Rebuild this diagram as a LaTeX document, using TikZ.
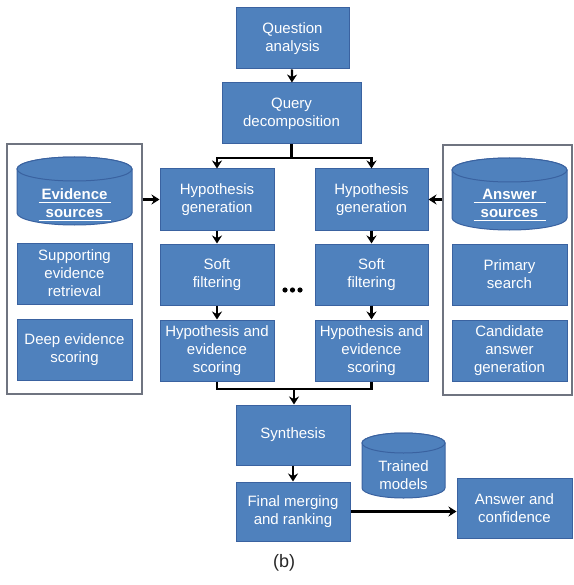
\documentclass[tikz,border=0pt]{standalone}
\usepackage{fontspec}
\setmainfont{Liberation Sans}
\usetikzlibrary{arrows.meta}
\definecolor{boxfill}{HTML}{4F81BD}
\definecolor{boxline}{HTML}{3A62A0}
\definecolor{frameline}{HTML}{6F7480}
\newcommand\mycyl[5]{%
  \pgfmathsetmacro\cylrx{(#3-#1)/2}%
  \pgfmathsetmacro\cylcx{(#1+#3)/2}%
  \draw[cylst] (#1,#2+#5) -- (#1,#4-#5) arc (180:360:\cylrx pt and #5 pt) -- (#3,#2+#5) arc (0:180:\cylrx pt and #5 pt) -- cycle;
  \draw[cylst] (\cylcx,#2+#5) ellipse (\cylrx pt and #5 pt);}
\newcommand\ulw[2]{\mbox{\rlap{\rule[-3.5pt]{#1}{1.2pt}}\makebox[#1]{#2}}}
\begin{document}
\begin{tikzpicture}[x=1pt,y=-1pt,
  bx/.style={draw=boxline, line width=1pt, fill=boxfill, text=white, align=center,
    font=\fontsize{15}{18}\selectfont, inner sep=0pt},
  cylst/.style={draw=boxline, line width=1pt, fill=boxfill},
  cyltext/.style={text=white, align=center, font=\fontsize{15}{18}\selectfont, inner sep=0pt},
  frm/.style={draw=frameline, line width=1.3pt, fill=none, inner sep=0pt},
  conn/.style={line width=2.2pt, black},
  arr/.style={conn, -{Stealth[length=8pt,width=10pt]}}]
\useasboundingbox (0,0) rectangle (573,585);

% containers
\node[frm, minimum width=135pt, minimum height=250pt] (evframe) at (74.5,269) {};
\node[frm, minimum width=129pt, minimum height=250pt] (ansframe) at (507.5,270) {};

% top
\node[bx, minimum width=113pt, minimum height=61pt] (qa) at (292.5,38.5) {Question\\analysis};
\node[bx, minimum width=139pt, minimum height=61pt] (qd) at (291.5,113.5) {Query\\decomposition};

% left column
\node[bx, minimum width=114pt, minimum height=61pt] (hgl) at (217,199.5) {Hypothesis\\generation};
\node[bx, minimum width=114pt, minimum height=61pt] (sfl) at (217,274.5) {Soft\\filtering};
\node[bx, minimum width=114pt, minimum height=61pt] (hesl) at (217,350.5) {Hypothesis and\\evidence\\scoring};

% right column
\node[bx, minimum width=113pt, minimum height=61pt] (hgr) at (371.5,199.5) {Hypothesis\\generation};
\node[bx, minimum width=113pt, minimum height=61pt] (sfr) at (371.5,274.5) {Soft\\filtering};
\node[bx, minimum width=113pt, minimum height=61pt] (hesr) at (371.5,350.5) {Hypothesis and\\evidence\\scoring};

% evidence sources
\mycyl{17}{157}{132}{225}{12}
\node[cyltext, font=\fontsize{15}{18}\selectfont\bfseries] (evs) at (74.5,205) {\ulw{72pt}{Evidence}\\\ulw{72pt}{sources}};
\node[bx, minimum width=115pt, minimum height=61pt] (ser) at (74.5,273.5) {Supporting\\evidence\\retrieval};
\node[bx, minimum width=115pt, minimum height=61pt] (des) at (74.5,349.5) {Deep evidence\\scoring};

% answer sources
\mycyl{452}{158}{567}{230}{12}
\node[cyltext, font=\fontsize{15}{18}\selectfont\bfseries] (ans) at (509.5,205) {\ulw{72pt}{Answer}\\\ulw{72pt}{sources}};
\node[bx, minimum width=115pt, minimum height=61pt] (ps) at (509.5,274.5) {Primary\\search};
\node[bx, minimum width=115pt, minimum height=61pt] (cag) at (509.5,350.5) {Candidate\\answer\\generation};

% bottom
\node[bx, minimum width=114pt, minimum height=60pt] (syn) at (293,435) {Synthesis};
\node[bx, minimum width=114pt, minimum height=59pt] (fm) at (293,511.5) {Final merging\\and ranking};
\mycyl{362}{433}{445}{498}{10}
\node[cyltext] (tm) at (403.5,475) {Trained\\models};
\node[bx, minimum width=115pt, minimum height=60pt] (ac) at (514.5,508) {Answer and\\confidence};

\node[font=\fontsize{18}{21}\selectfont, text=black!85] (lab) at (284,563) {(b)};

% dots
\fill (285,290) circle (2.6);
\fill (292.5,290) circle (2.6);
\fill (300,290) circle (2.6);

% connectors
\coordinate (split) at (291.5,158);
\coordinate (merge) at (294,389);
\draw[arr] (qa) -- (qd);
\draw[conn] (qd.south) -- (split);
\draw[arr] (split) -| (hgl.north);
\draw[arr] (split) -| (hgr.north);
\draw[arr] (hgl) -- (sfl);
\draw[arr] (sfl) -- (hesl);
\draw[arr] (hgr) -- (sfr);
\draw[arr] (sfr) -- (hesr);
\draw[conn] (hesl.south) |- (merge) -| (hesr.south);
\draw[arr] (merge) -- (syn.north -| merge);
\draw[arr] (syn) -- (fm);
\draw[arr] (evframe.east |- hgl.west) -- (hgl.west);
\draw[arr] (ansframe.west |- hgr.east) -- (hgr.east);
\draw[arr] (fm.east) -- (ac.west |- fm.east);
\end{tikzpicture}
\end{document}
